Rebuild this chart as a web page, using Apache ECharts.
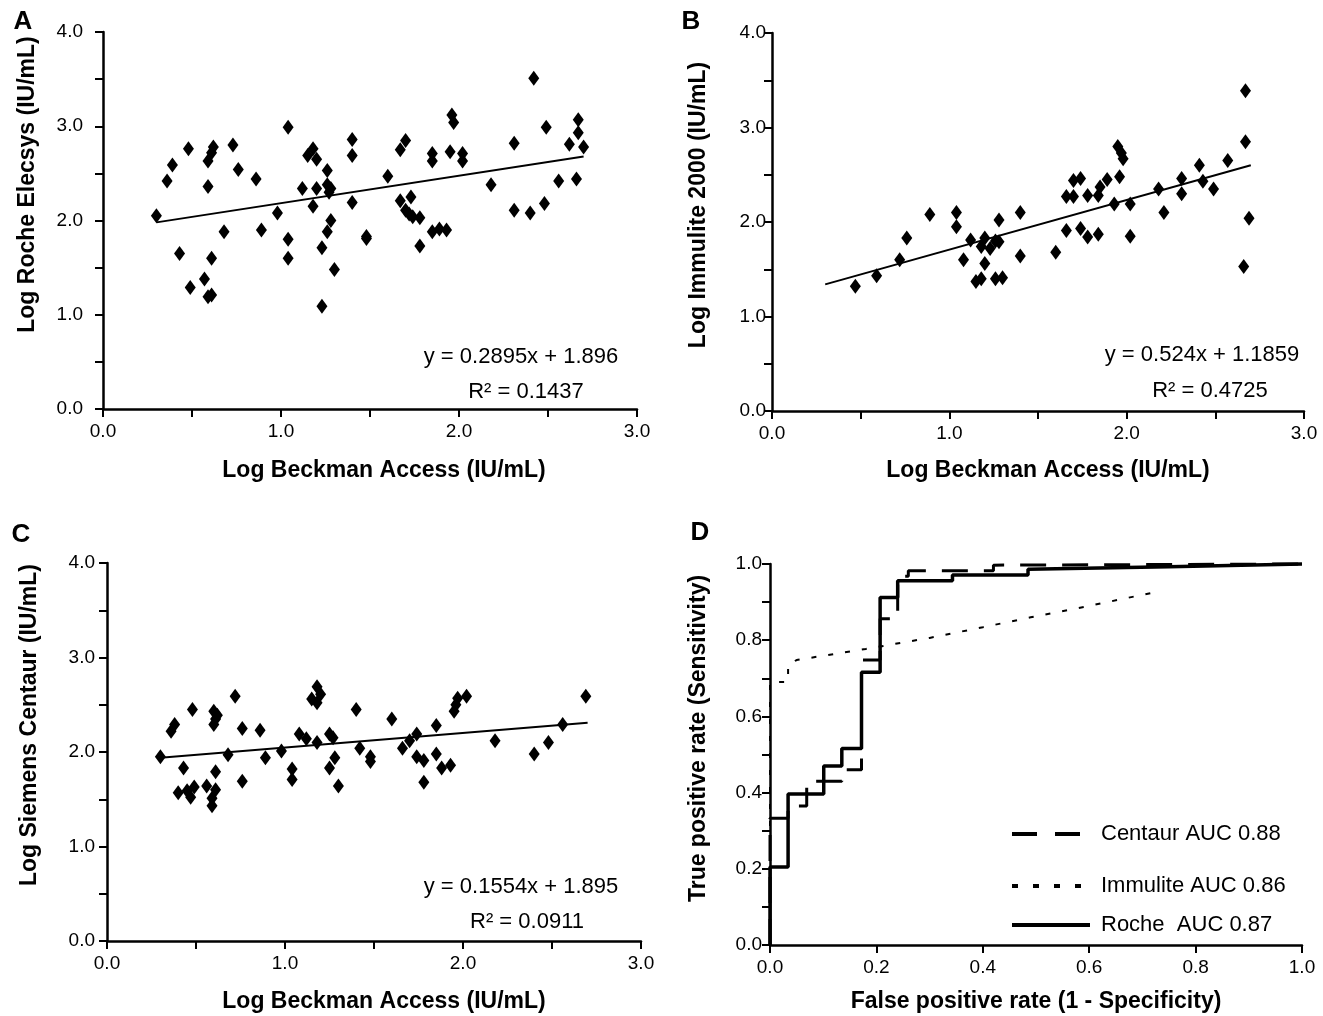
<!DOCTYPE html>
<html>
<head>
<meta charset="utf-8">
<script src="https://cdn.jsdelivr.net/npm/echarts@6/dist/echarts.min.js"></script>
<style>
html,body{margin:0;padding:0;background:#fff;}
#c{width:1323px;height:1016px;}
</style>
</head>
<body>
<div id="c"></div>
<script>
// ---- Data ----
// Panel A: Log Beckman Access (x) vs Log Roche Elecsys (y)
const pointsA = [
  [0.30,2.05],[0.36,2.42],[0.39,2.59],[0.48,2.76],[0.43,1.65],[0.49,1.29],[0.57,1.38],[0.59,1.19],
  [0.61,1.21],[0.59,2.36],[0.59,2.63],[0.61,2.72],[0.62,2.78],[0.61,1.60],[0.68,1.88],[0.73,2.80],
  [0.76,2.54],[0.86,2.44],[0.89,1.90],[0.98,2.08],[1.04,2.99],[1.04,1.80],[1.04,1.60],[1.12,2.34],
  [1.15,2.69],[1.18,2.76],[1.20,2.65],[1.20,2.34],[1.18,2.15],[1.26,2.53],[1.26,2.38],[1.28,2.34],
  [1.27,2.30],[1.28,2.00],[1.26,1.88],[1.23,1.71],[1.30,1.48],[1.23,1.09],[1.40,2.86],[1.40,2.69],
  [1.40,2.19],[1.48,1.83],[1.48,1.81],
  [1.60,2.47],[1.67,2.75],[1.70,2.85],[1.67,2.21],[1.73,2.25],[1.70,2.11],[1.72,2.07],[1.74,2.04],
  [1.78,2.03],[1.78,1.73],[1.85,1.88],[1.89,1.91],[1.93,1.90],[1.85,2.71],[1.85,2.63],[1.95,2.73],
  [1.96,3.12],[1.97,3.04],[2.02,2.71],[2.02,2.63],[2.18,2.38],[2.31,2.82],[2.31,2.11],[2.40,2.08],
  [2.48,2.18],[2.42,3.51],[2.49,2.99],[2.56,2.42],[2.66,2.44],[2.62,2.81],[2.67,2.93],[2.67,3.07],
  [2.70,2.78]
];
const trendA = [[0.30,1.98],[2.70,2.68]];
const eqA = ['y = 0.2895x + 1.896', 'R\u00B2 = 0.1437'];

// Panel B: Log Beckman Access (x) vs Log Immulite 2000 (y)
const pointsB = [
  [0.47,1.32],[0.59,1.43],[0.72,1.60],[0.76,1.83],[0.89,2.08],[1.04,2.10],[1.04,1.95],[1.08,1.60],
  [1.12,1.81],[1.15,1.37],[1.18,1.40],[1.18,1.74],[1.20,1.83],[1.20,1.56],[1.23,1.72],[1.26,1.80],
  [1.28,1.79],[1.28,2.02],[1.26,1.40],[1.30,1.41],[1.40,2.10],[1.40,1.64],
  [1.60,1.68],[1.66,2.27],[1.66,1.91],[1.70,2.27],[1.70,2.44],[1.74,2.46],[1.74,1.93],[1.78,2.28],
  [1.78,1.84],[1.84,2.28],[1.85,2.37],[1.84,1.87],[1.89,2.45],[1.93,2.19],[1.95,2.80],[1.97,2.73],
  [1.98,2.67],[1.96,2.48],[2.02,2.19],[2.02,1.85],[2.18,2.35],[2.21,2.10],[2.31,2.46],[2.31,2.30],
  [2.41,2.60],[2.43,2.43],[2.49,2.35],[2.57,2.65],[2.67,3.39],[2.67,2.85],[2.69,2.04],[2.66,1.53]
];
const trendB = [[0.30,1.34],[2.70,2.60]];
const eqB = ['y = 0.524x + 1.1859', 'R\u00B2 = 0.4725'];

// Panel C: Log Beckman Access (x) vs Log Siemens Centaur (y)
const pointsC = [
  [0.30,1.95],[0.36,2.22],[0.38,2.29],[0.48,2.45],[0.43,1.83],[0.40,1.57],[0.45,1.59],[0.47,1.52],
  [0.49,1.63],[0.56,1.64],[0.61,1.60],[0.59,1.51],[0.59,1.43],[0.61,1.79],[0.60,2.43],[0.61,2.35],
  [0.60,2.29],[0.62,2.39],[0.68,1.97],[0.72,2.59],[0.76,2.25],[0.76,1.69],[0.86,2.23],[0.89,1.94],
  [0.98,2.01],[1.04,1.82],[1.04,1.71],[1.08,2.19],[1.12,2.14],[1.15,2.56],[1.18,2.69],[1.20,2.61],
  [1.18,2.52],[1.18,2.10],[1.25,2.19],[1.27,2.15],[1.25,1.83],[1.28,1.94],[1.30,1.64],[1.40,2.45],
  [1.42,2.04],[1.48,1.95],[1.48,1.90],
  [1.60,2.35],[1.66,2.04],[1.70,2.12],[1.74,2.19],[1.74,1.95],[1.78,1.91],[1.78,1.68],[1.85,2.28],
  [1.85,1.98],[1.88,1.83],[1.93,1.86],[1.95,2.43],[1.96,2.50],[1.97,2.57],[2.02,2.59],[2.18,2.12],
  [2.40,1.98],[2.48,2.10],[2.56,2.29],[2.69,2.59]
];
const trendC = [[0.30,1.94],[2.70,2.31]];
const eqC = ['y = 0.1554x + 1.895', 'R\u00B2 = 0.0911'];

// Panel D: ROC curves [false positive rate, true positive rate]
const rocCentaur = [
  [0,0],[0,0.333],[0.034,0.333],[0.034,0.365],[0.069,0.365],[0.069,0.43],[0.135,0.43],[0.135,0.46],
  [0.172,0.46],[0.172,0.748],[0.207,0.748],[0.207,0.856],[0.240,0.856],[0.240,0.968],[0.26,0.968],
  [0.26,0.982],[0.42,0.982],[0.42,0.997],[1,1]
];
const rocImmulite = [
  [0,0],[0,0.69],[0.034,0.69],[0.034,0.735],[0.05,0.748],[0.18,0.777],[0.30,0.806],[0.40,0.834],
  [0.49,0.86],[0.60,0.89],[0.72,0.925]
];
const rocRoche = [
  [0,0],[0,0.205],[0.034,0.205],[0.034,0.396],[0.101,0.396],[0.101,0.47],[0.135,0.47],[0.135,0.516],
  [0.172,0.516],[0.172,0.716],[0.207,0.716],[0.207,0.912],[0.240,0.912],[0.240,0.956],[0.343,0.956],
  [0.343,0.971],[0.485,0.971],[0.485,0.986],[0.75,0.993],[0.75,0.997],[1,1]
];
const rocNames = ['Centaur AUC 0.88', 'Immulite AUC 0.86', 'Roche  AUC 0.87'];

const panelLetters = ['A', 'B', 'C', 'D'];
const xTitles = ['Log Beckman Access (IU/mL)', 'Log Beckman Access (IU/mL)', 'Log Beckman Access (IU/mL)', 'False positive rate (1 - Specificity)'];
const yTitles = ['Log Roche Elecsys (IU/mL)', 'Log Immulite 2000 (IU/mL)', 'Log Siemens Centaur (IU/mL)', 'True positive rate (Sensitivity)'];

// ---- Chart ----
const FONT = '"Liberation Sans", Arial, sans-serif';
const chart = echarts.init(document.getElementById('c'), null, {renderer: 'canvas'});

const intLabel = v => (Math.abs(v - Math.round(v)) < 1e-6 ? v.toFixed(1) : '');
const evenTenthLabel = v => (Math.round(v * 10) % 2 === 0 ? v.toFixed(1) : '');

function axis(gi, isY, opts) {
  return {
    type: 'value', gridIndex: gi,
    min: opts.min, max: opts.max, interval: opts.interval,
    name: opts.name, nameLocation: 'middle', nameGap: opts.nameGap,
    nameTextStyle: {fontFamily: FONT, fontSize: 23, fontWeight: 'bold', color: '#000', padding: opts.namePad || 0},
    axisLine: {show: true, onZero: false, lineStyle: {color: '#000', width: 2.5}},
    axisTick: {show: true, inside: false, length: 8, lineStyle: {color: '#000', width: 2}},
    axisLabel: {show: true, formatter: opts.fmt, fontFamily: FONT, fontSize: 19, color: '#000', margin: opts.margin},
    splitLine: {show: false}
  };
}

const grids = [
  {left: 103, top: 32, width: 534, height: 377},
  {left: 772, top: 33, width: 532, height: 378},
  {left: 107, top: 563, width: 534, height: 378},
  {left: 770, top: 564, width: 532, height: 381}
];

const xAxes = [
  axis(0, false, {min: 0, max: 3, interval: 0.5, fmt: intLabel, name: xTitles[0], nameGap: 50, margin: 13, namePad: [0, 0, 0, 28]}),
  axis(1, false, {min: 0, max: 3, interval: 0.5, fmt: intLabel, name: xTitles[1], nameGap: 48, margin: 13, namePad: [0, 0, 0, 20]}),
  axis(2, false, {min: 0, max: 3, interval: 0.5, fmt: intLabel, name: xTitles[2], nameGap: 49, margin: 13, namePad: [0, 0, 0, 20]}),
  axis(3, false, {min: 0, max: 1, interval: 0.2, fmt: v => v.toFixed(1), name: xTitles[3], nameGap: 45, margin: 13})
];
const yAxes = [
  axis(0, true, {min: 0, max: 4, interval: 0.5, fmt: intLabel, name: yTitles[0], nameGap: 64, margin: 20, namePad: [0, 0, 0, 72]}),
  axis(1, true, {min: 0, max: 4, interval: 0.5, fmt: intLabel, name: yTitles[1], nameGap: 62, margin: 6, namePad: [0, 0, 0, 34]}),
  axis(2, true, {min: 0, max: 4, interval: 0.5, fmt: intLabel, name: yTitles[2], nameGap: 66, margin: 12, namePad: [0, 0, 0, 54]}),
  axis(3, true, {min: 0, max: 1, interval: 0.1, fmt: evenTenthLabel, name: yTitles[3], nameGap: 60, margin: 8, namePad: [0, 0, 0, 32]})
];

function scatter(gi, data) {
  return {type: 'scatter', xAxisIndex: gi, yAxisIndex: gi, data: data, symbol: 'diamond',
    symbolSize: [11, 15], itemStyle: {color: '#000', opacity: 1}, silent: true, z: 3};
}
function trend(gi, data) {
  return {type: 'line', xAxisIndex: gi, yAxisIndex: gi, data: data, symbol: 'none',
    lineStyle: {color: '#000', width: 2}, silent: true, z: 2};
}
function roc(name, data, ls, z) {
  return {name: name, type: 'line', xAxisIndex: 3, yAxisIndex: 3, data: data, symbol: 'none', showSymbol: false,
    clip: false, lineStyle: Object.assign({color: '#000', cap: 'butt'}, ls), itemStyle: {color: '#000'}, silent: true, z: z};
}

function legendFor(name, top, w, ls, pad) {
  return {
    data: [name], left: 1010, top: top, orient: 'vertical', padding: 0,
    itemWidth: w, itemHeight: 14, selectedMode: false,
    lineStyle: Object.assign({color: '#000'}, ls), itemStyle: {color: '#000', opacity: 0},
    textStyle: {fontFamily: FONT, fontSize: 22, color: '#000', padding: [0, 0, 0, pad]}
  };
}

function txt(x, y, s, size, bold, align) {
  return {type: 'text', x: x, y: y, silent: true, z: 10,
    style: {text: s, fill: '#000', font: (bold ? 'bold ' : '') + size + 'px ' + FONT,
      align: align || 'center', verticalAlign: 'middle'}};
}

const option = {
  animation: false,
  backgroundColor: '#fff',
  grid: grids,
  xAxis: xAxes,
  yAxis: yAxes,
  legend: [
    legendFor(rocNames[0], 823, 70, {type: [25, 18], width: 4}, 14),
    legendFor(rocNames[1], 875, 70, {type: [6, 15], width: 4}, 14),
    legendFor(rocNames[2], 914, 78, {type: 'solid', width: 4}, 6)
  ],
  series: [
    scatter(0, pointsA), trend(0, trendA),
    scatter(1, pointsB), trend(1, trendB),
    scatter(2, pointsC), trend(2, trendC),
    roc(rocNames[0], rocCentaur, {width: 3, type: [26, 16]}, 3),
    roc(rocNames[1], rocImmulite, {width: 2, type: [5, 12]}, 3),
    roc(rocNames[2], rocRoche, {width: 3.5, type: 'solid'}, 4)
  ],
  graphic: [
    txt(23, 22, panelLetters[0], 26, true),
    txt(691, 22, panelLetters[1], 26, true),
    txt(21, 535, panelLetters[2], 26, true),
    txt(700, 533, panelLetters[3], 26, true),
    txt(521, 357, eqA[0], 22, false), txt(526, 392, eqA[1], 22, false),
    txt(1202, 355, eqB[0], 22, false), txt(1210, 391, eqB[1], 22, false),
    txt(521, 887, eqC[0], 22, false), txt(527, 922, eqC[1], 22, false)
  ]
};
chart.setOption(option);
</script>
</body>
</html>
